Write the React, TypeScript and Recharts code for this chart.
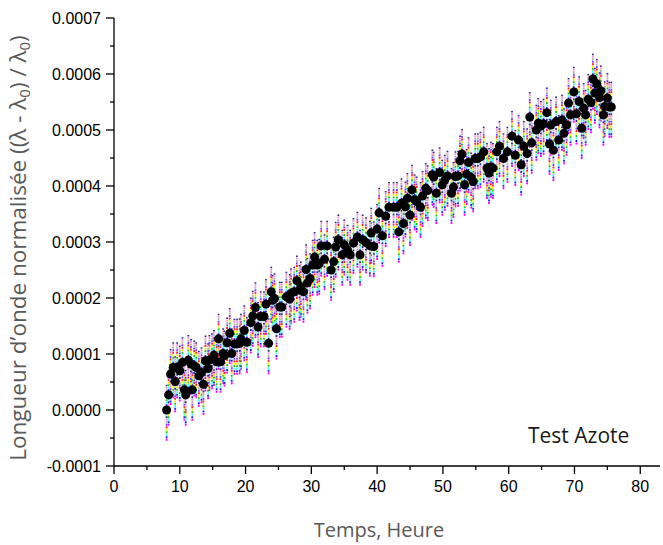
import React from 'react';
import { ScatterChart, Scatter, XAxis, YAxis, ErrorBar, Label, ZAxis } from 'recharts';

const hours = [
  8.0, 8.3, 8.6, 9.0, 9.3, 9.6, 10.0, 10.4, 10.7, 10.9, 11.3, 11.7, 11.9, 12.2, 12.5, 12.9, 13.3, 13.6, 13.9, 14.3,
  14.5, 14.9, 15.2, 15.6, 15.9, 16.2, 16.6, 16.8, 17.2, 17.6, 17.9, 18.3, 18.7, 19.1, 19.3, 19.8, 20.2, 20.8, 21.1, 21.5,
  21.9, 22.3, 22.8, 23.1, 23.5, 23.9, 24.1, 24.4, 24.7, 25.2, 25.5, 26.2, 26.7, 26.9, 27.4, 27.8, 28.2, 28.4, 28.8, 29.2,
  29.4, 29.8, 30.2, 30.5, 30.9, 31.2, 31.5, 32.0, 32.4, 33.0, 33.4, 33.7, 34.1, 34.7, 35.0, 35.5, 35.9, 36.4, 37.0, 37.4,
  37.8, 38.3, 38.9, 39.1, 39.5, 40.0, 40.3, 40.8, 41.3, 41.8, 42.5, 43.0, 43.3, 43.7, 44.0, 44.3, 44.6, 45.0, 45.3, 45.7,
  46.0, 46.6, 46.9, 47.4, 47.7, 48.4, 48.6, 49.0, 49.5, 49.9, 50.3, 50.7, 51.3, 51.6, 51.9, 52.3, 52.6, 52.9, 53.3, 53.6,
  53.9, 54.3, 54.6, 54.9, 55.3, 55.7, 56.2, 56.7, 57.0, 57.3, 57.6, 58.2, 58.6, 59.2, 59.8, 60.5, 61.0, 61.5, 61.9, 62.3,
  62.8, 63.2, 63.5, 64.2, 64.5, 64.9, 65.3, 65.8, 66.2, 66.4, 66.8, 67.2, 67.6, 68.1, 68.4, 68.8, 69.1, 69.4, 69.9, 70.3,
  70.7, 71.1, 71.4, 71.7, 72.1, 72.5, 72.8, 73.1, 73.4, 73.8, 74.0, 74.4, 74.6, 75.0, 75.3, 75.6,
];

const shift = [
  0.000000, 0.000027, 0.000064, 0.000076, 0.000051, 0.000076, 0.000070, 0.000085, 0.000036, 0.000027, 0.000089, 0.000082, 0.000036, 0.000079, 0.000076, 0.000061, 0.000067, 0.000046, 0.000088, 0.000074,
  0.000089, 0.000092, 0.000098, 0.000086, 0.000127, 0.000086, 0.000101, 0.000097, 0.000120, 0.000137, 0.000101, 0.000118, 0.000118, 0.000119, 0.000127, 0.000142, 0.000121, 0.000156, 0.000168, 0.000183,
  0.000148, 0.000167, 0.000167, 0.000189, 0.000119, 0.000211, 0.000196, 0.000199, 0.000145, 0.000184, 0.000184, 0.000202, 0.000198, 0.000208, 0.000211, 0.000231, 0.000214, 0.000220, 0.000211, 0.000251,
  0.000227, 0.000235, 0.000259, 0.000273, 0.000259, 0.000261, 0.000293, 0.000269, 0.000293, 0.000250, 0.000265, 0.000291, 0.000304, 0.000277, 0.000295, 0.000286, 0.000277, 0.000298, 0.000309, 0.000277,
  0.000304, 0.000299, 0.000293, 0.000316, 0.000292, 0.000323, 0.000352, 0.000311, 0.000346, 0.000362, 0.000362, 0.000362, 0.000318, 0.000369, 0.000333, 0.000363, 0.000378, 0.000348, 0.000393, 0.000376,
  0.000372, 0.000362, 0.000382, 0.000396, 0.000392, 0.000420, 0.000416, 0.000387, 0.000424, 0.000402, 0.000411, 0.000418, 0.000387, 0.000398, 0.000417, 0.000418, 0.000445, 0.000457, 0.000402, 0.000421,
  0.000442, 0.000415, 0.000408, 0.000449, 0.000449, 0.000452, 0.000461, 0.000432, 0.000423, 0.000434, 0.000432, 0.000461, 0.000471, 0.000449, 0.000461, 0.000489, 0.000455, 0.000482, 0.000438, 0.000471,
  0.000458, 0.000523, 0.000477, 0.000500, 0.000512, 0.000507, 0.000511, 0.000531, 0.000475, 0.000509, 0.000464, 0.000515, 0.000482, 0.000518, 0.000494, 0.000509, 0.000548, 0.000527, 0.000568, 0.000529,
  0.000551, 0.000503, 0.000539, 0.000527, 0.000555, 0.000549, 0.000591, 0.000566, 0.000582, 0.000558, 0.000570, 0.000527, 0.000542, 0.000557, 0.000541, 0.000541,
];

// spread of the individual coloured measurements around each mean point
const spreadLow = 0.000055;
const spreadHigh = 0.000045;

const xTicks = [0, 5, 10, 15, 20, 25, 30, 35, 40, 45, 50, 55, 60, 65, 70, 75, 80];
const xLabeled = [0, 10, 20, 30, 40, 50, 60, 70, 80];
const yTicks = [-0.0001, -0.00005, 0, 0.00005, 0.0001, 0.00015, 0.0002, 0.00025, 0.0003, 0.00035, 0.0004, 0.00045, 0.0005, 0.00055, 0.0006, 0.00065, 0.0007];

const dotColors = ['#ff00ff', '#2020ff', '#40ffff', '#20c020', '#f0f000', '#ff2020', '#8040ff', '#b0b0b0', '#ff90d0', '#303080', '#a0e0ff', '#707070'];

const data = hours.map((h, i) => ({ t: h, v: shift[i], err: [spreadLow, spreadHigh] }));

const YTick = (props: any) => {
  const { x, y, payload } = props;
  const v = payload.value;
  const major = Math.abs(Math.round(v * 1e5)) % 10 === 0;
  return (
    <g>
      <line x1={x} y1={y} x2={x - (major ? 8 : 4)} y2={y} stroke="#000" strokeWidth={1.3} />
      {major && (
        <text x={x - 13} y={y} dy={5.5} textAnchor="end" fontSize={16} fontFamily="Liberation Sans, Arial, sans-serif" fill="#000">
          {v.toFixed(4)}
        </text>
      )}
    </g>
  );
};

const XTick = (props: any) => {
  const { x, y, payload } = props;
  const v = payload.value;
  const major = xLabeled.includes(v);
  return (
    <g>
      <line x1={x} y1={y} x2={x} y2={y + (major ? 8 : 4)} stroke="#000" strokeWidth={1.3} />
      {major && (
        <text x={x} y={y + 26} textAnchor="middle" fontSize={16} fontFamily="Liberation Sans, Arial, sans-serif" fill="#000">
          {v}
        </text>
      )}
    </g>
  );
};

const YTitle = (props: any) => {
  const vb = props.viewBox;
  const cx = vb.x + 26;
  const cy = vb.y + vb.height / 2 + 6;
  return (
    <text
      x={cx}
      y={cy}
      transform={`rotate(-90 ${cx} ${cy})`}
      textAnchor="middle"
      fontSize={22.5}
      fontFamily="Open Sans, sans-serif"
      fill="#595959"
    >
      Longueur d’onde normalisée ((λ - λ
      <tspan fontSize={15} dy={4}>0</tspan>
      <tspan dy={-4}>) / λ</tspan>
      <tspan fontSize={15} dy={4}>0</tspan>
      <tspan dy={-4}>)</tspan>
    </text>
  );
};

const PERIOD = 32;

export default function App() {
  return (
    <div style={{ position: 'absolute', left: 0, top: 0, width: 663, height: 545, background: '#fff' }}>
      <ScatterChart width={663} height={545} margin={{ top: 18, right: 3, bottom: 0, left: 0 }}>
        <XAxis
          type="number"
          dataKey="t"
          domain={[0, 83]}
          ticks={xTicks}
          interval={0}
          tickSize={0}
          tickMargin={0}
          tickLine={false}
          tick={<XTick />}
          height={79}
          axisLine={{ stroke: '#000', strokeWidth: 1.3 }}
          allowDataOverflow
        >
          <Label value="Temps, Heure" position="insideBottom" offset={8} fontSize={20} fontFamily="Open Sans, sans-serif" fill="#595959" dx={-8} />
        </XAxis>
        <YAxis
          type="number"
          dataKey="v"
          domain={[-0.0001, 0.0007]}
          ticks={yTicks}
          interval={0}
          tickSize={0}
          tickMargin={0}
          tickLine={false}
          tick={<YTick />}
          width={114}
          axisLine={{ stroke: '#000', strokeWidth: 1.3 }}
          allowDataOverflow
        >
          <Label content={<YTitle />} />
        </YAxis>
        <ZAxis range={[48, 48]} />
        <Scatter data={data} fill="#000" isAnimationActive={false}>
          {dotColors.map((c, k) => (
            <ErrorBar
              key={c}
              dataKey="err"
              direction="y"
              width={0}
              stroke={c}
              strokeWidth={1.8}
              strokeDasharray={`0 ${k * 2.5} 2 ${PERIOD - 2 - k * 2.5}`}
              isAnimationActive={false}
            />
          ))}
        </Scatter>
      </ScatterChart>
      <div
        style={{
          position: 'absolute',
          left: 528,
          top: 421,
          fontFamily: 'Open Sans, sans-serif',
          fontSize: 21,
          color: '#1a1a1a',
          whiteSpace: 'nowrap',
        }}
      >
        Test Azote
      </div>
    </div>
  );
}
